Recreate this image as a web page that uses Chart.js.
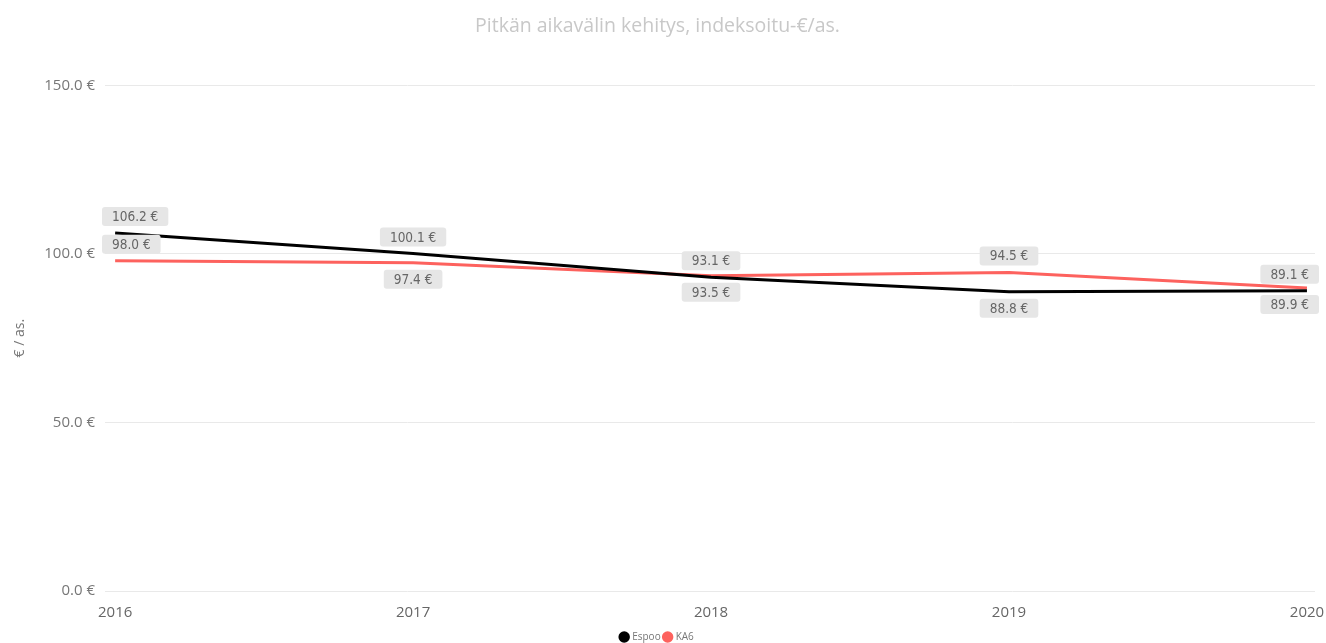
<!DOCTYPE html>
<html>
<head>
<meta charset="utf-8">
<script src="https://cdn.jsdelivr.net/npm/chart.js@4"></script>
<style>
  html, body { margin: 0; padding: 0; background: #fff; }
  #wrap { width: 1326px; height: 643px; }
</style>
</head>
<body>
<div id="wrap"><canvas id="chart"></canvas></div>
<script>
// Data
const years = [2016, 2017, 2018, 2019, 2020];
const espoo = [106.2, 100.1, 93.1, 88.8, 89.1];
const ka6 = [98.0, 97.4, 93.5, 94.5, 89.9];
const yTicks = [0, 50, 100, 150];

// which side of the line each value label sits on
const espooSide = ['above', 'above', 'above', 'below', 'above'];
const ka6Side = ['above', 'below', 'below', 'above', 'below'];

const euro = v => v.toFixed(1) + ' €';

// Draw the grey value boxes like Power BI does
const valueLabels = {
    id: 'valueLabels',
    afterDatasetsDraw(chart) {
        const ctx = chart.ctx;
        const sides = [espooSide, ka6Side];
        ctx.save();
        ctx.font = '13.5px "DejaVu Sans Condensed", Roboto, sans-serif';
        ctx.textBaseline = 'middle';
        ctx.textAlign = 'center';
        chart.data.datasets.forEach((ds, di) => {
            const meta = chart.getDatasetMeta(di);
            meta.data.forEach((pt, i) => {
                const text = euro(ds.data[i].y);
                const w = ctx.measureText(text).width + 20;
                const h = 19;
                let left = pt.x - w / 2;
                if (left < 102) left = 102;
                if (left + w > 1319) left = 1319 - w;
                const top = sides[di][i] === 'above' ? pt.y - 7 - h : pt.y + 7;
                ctx.fillStyle = '#e6e6e6';
                ctx.beginPath();
                ctx.roundRect(left, top, w, h, 3);
                ctx.fill();
                ctx.fillStyle = '#666666';
                ctx.fillText(text, left + w / 2, top + h / 2 + 1);
            });
        });
        ctx.restore();
    }
};

const ctx = document.getElementById('chart').getContext('2d');
new Chart(ctx, {
    type: 'line',
    data: {
        datasets: [
            {
                label: 'Espoo',
                data: years.map((y, i) => ({ x: y, y: espoo[i] })),
                borderColor: '#000000',
                backgroundColor: '#000000',
                borderWidth: 3,
                pointRadius: 0,
                tension: 0
            },
            {
                label: 'KA6',
                data: years.map((y, i) => ({ x: y, y: ka6[i] })),
                borderColor: '#fd625e',
                backgroundColor: '#fd625e',
                borderWidth: 3,
                pointRadius: 0,
                tension: 0
            }
        ]
    },
    options: {
        responsive: true,
        maintainAspectRatio: false,
        animation: false,
        layout: { padding: { left: 0, right: 11, top: 0, bottom: -9 } },
        plugins: {
            title: {
                display: true,
                text: 'Pitkän aikavälin kehitys, indeksoitu-€/as.',
                color: '#c8c8c8',
                font: { family: '"Open Sans", sans-serif', size: 19.5, weight: 'normal' },
                padding: { top: 15, bottom: 47 }
            },
            legend: {
                position: 'bottom',
                labels: {
                    usePointStyle: true,
                    pointStyle: 'circle',
                    boxWidth: 6,
                    boxHeight: 6,
                    padding: 4,
                    color: '#777777',
                    font: { family: '"Open Sans", sans-serif', size: 10 }
                }
            },
            tooltip: { enabled: false }
        },
        scales: {
            x: {
                type: 'linear',
                min: 2015.966,
                max: 2020.027,
                afterFit: s => { s.height = 37; s.paddingLeft = 0; s.paddingRight = 0; },
                afterBuildTicks: s => { s.ticks = years.map(v => ({ value: v })); },
                grid: { display: false },
                border: { display: false },
                ticks: {
                    color: '#666666',
                    padding: 5,
                    maxRotation: 0,
                    font: { family: '"Open Sans", sans-serif', size: 15 },
                    callback: v => String(v)
                }
            },
            y: {
                min: 0,
                max: 150,
                afterFit: s => { s.width = 105; },
                afterBuildTicks: s => { s.ticks = yTicks.map(v => ({ value: v })); },
                grid: { color: '#e9e9e9', drawTicks: false },
                border: { display: false },
                ticks: {
                    color: '#777777',
                    padding: 10,
                    font: { family: '"Open Sans", sans-serif', size: 15 },
                    callback: v => euro(v)
                },
                title: {
                    display: true,
                    text: '€ / as.',
                    color: '#777777',
                    font: { family: '"Open Sans", sans-serif', size: 14 },
                    padding: { top: 12, bottom: 0 }
                }
            }
        }
    },
    plugins: [valueLabels]
});
</script>
</body>
</html>
